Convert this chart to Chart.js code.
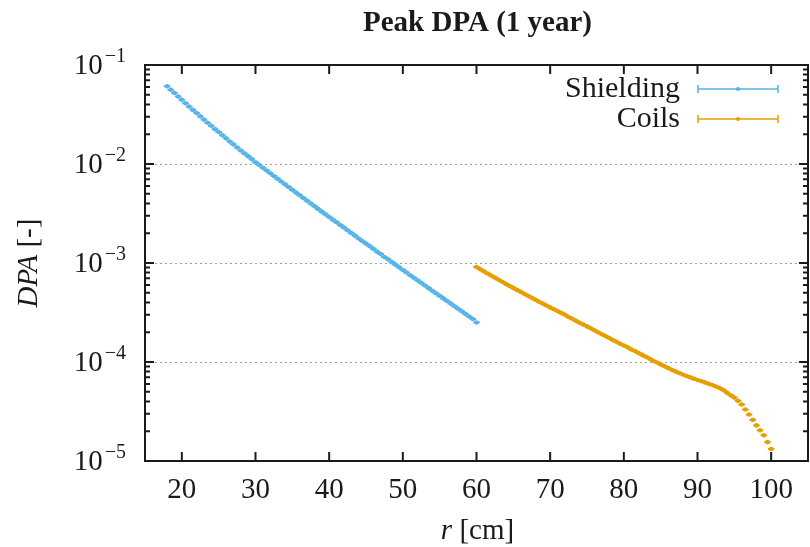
<!DOCTYPE html>
<html>
<head>
<meta charset="utf-8">
<script src="https://cdn.jsdelivr.net/npm/chart.js@4.4.1/dist/chart.umd.min.js"></script>
<style>
  html, body { margin: 0; padding: 0; background: #fff; overflow: hidden; }
  #wrap { width: 812px; height: 547px; }
</style>
</head>
<body>
<div id="wrap"><canvas id="dpaChart" width="812" height="547"></canvas></div>
<script>
// r positions [cm] and peak DPA values
const shieldR = [18, 18.5, 19, 19.5, 20, 20.5, 21, 21.5, 22, 22.5, 23, 23.5, 24, 24.5, 25,
  25.5, 26, 26.5, 27, 27.5, 28, 28.5, 29, 29.5, 30,
  30.5, 31, 31.5, 32, 32.5, 33, 33.5, 34, 34.5, 35,
  35.5, 36, 36.5, 37, 37.5, 38, 38.5, 39, 39.5, 40,
  40.5, 41, 41.5, 42, 42.5, 43, 43.5, 44, 44.5, 45,
  45.5, 46, 46.5, 47, 47.5, 48, 48.5, 49, 49.5, 50,
  50.5, 51, 51.5, 52, 52.5, 53, 53.5, 54, 54.5, 55,
  55.5, 56, 56.5, 57, 57.5, 58, 58.5, 59, 59.5, 60];
const shieldDPA = [0.0610, 0.0562, 0.0521, 0.0481, 0.0445, 0.0411, 0.0380, 0.0352, 0.0327, 0.0303, 0.0281, 0.0261, 0.0243, 0.0225, 0.0210,
  0.0195, 0.0182, 0.0169, 0.0158, 0.0147, 0.0137, 0.0128, 0.0120, 0.0112, 0.0104,
  0.00980, 0.00918, 0.00861, 0.00807, 0.00757, 0.00710, 0.00665, 0.00624, 0.00585, 0.00548,
  0.00514, 0.00483, 0.00453, 0.00426, 0.00399, 0.00375, 0.00352, 0.00330, 0.00310, 0.00292,
  0.00274, 0.00258, 0.00242, 0.00228, 0.00214, 0.00201, 0.00189, 0.00177, 0.00167, 0.00157,
  0.00148, 0.00139, 0.00130, 0.00123, 0.00115, 0.00109, 0.00102, 0.000962, 0.000904, 0.000851,
  0.000802, 0.000753, 0.000710, 0.000668, 0.000630, 0.000592, 0.000557, 0.000525, 0.000494, 0.000466,
  0.000439, 0.000413, 0.000389, 0.000366, 0.000345, 0.000325, 0.000306, 0.000288, 0.000272, 0.000251];

const coilR = [60, 60.5, 61, 61.5, 62, 62.5, 63, 63.5, 64, 64.5,
  65, 65.5, 66, 66.5, 67, 67.5, 68, 68.5, 69, 69.5,
  70, 70.5, 71, 71.5, 72, 72.5, 73, 73.5, 74, 74.5,
  75, 75.5, 76, 76.5, 77, 77.5, 78, 78.5, 79, 79.5,
  80, 80.5, 81, 81.5, 82, 82.5, 83, 83.5, 84, 84.5,
  85, 85.5, 86, 86.5, 87, 87.5, 88, 88.5, 89, 89.5,
  90, 90.5, 91, 91.5, 92, 92.5, 93, 93.5, 94, 94.5,
  95, 95.5, 96, 96.5, 97, 97.5, 98, 98.5, 99, 99.5, 100];
const coilDPA = [9.12e-4, 8.67e-4, 8.24e-4, 7.83e-4, 7.46e-4, 7.11e-4, 6.78e-4, 6.46e-4, 6.15e-4, 5.86e-4,
  5.60e-4, 5.35e-4, 5.11e-4, 4.88e-4, 4.66e-4, 4.45e-4, 4.26e-4, 4.06e-4, 3.89e-4, 3.72e-4,
  3.56e-4, 3.41e-4, 3.27e-4, 3.13e-4, 3.00e-4, 2.85e-4, 2.73e-4, 2.61e-4, 2.49e-4, 2.39e-4,
  2.29e-4, 2.19e-4, 2.09e-4, 2.00e-4, 1.91e-4, 1.83e-4, 1.75e-4, 1.67e-4, 1.60e-4, 1.53e-4,
  1.47e-4, 1.41e-4, 1.34e-4, 1.29e-4, 1.23e-4, 1.18e-4, 1.13e-4, 1.08e-4, 1.03e-4, 9.89e-5,
  9.46e-5, 9.08e-5, 8.71e-5, 8.36e-5, 8.04e-5, 7.74e-5, 7.48e-5, 7.23e-5, 7.00e-5, 6.79e-5,
  6.59e-5, 6.41e-5, 6.22e-5, 6.04e-5, 5.86e-5, 5.66e-5, 5.45e-5, 5.21e-5, 4.90e-5, 4.62e-5,
  4.37e-5, 4.05e-5, 3.72e-5, 3.31e-5, 2.95e-5, 2.60e-5, 2.29e-5, 2.04e-5, 1.82e-5, 1.55e-5, 1.32e-5];

const xTicks = [20, 30, 40, 50, 60, 70, 80, 90, 100];
const yDecades = [1e-1, 1e-2, 1e-3, 1e-4, 1e-5];
const yExponents = ['\u22121', '\u22122', '\u22123', '\u22124', '\u22125'];
const seriesNames = ['Shielding', 'Coils'];
const seriesColors = ['#56b4e9', '#e69f00'];
const rHalfBin = 0.45; // horizontal error bar half width [cm]

const SERIF = '"Liberation Serif", "Times New Roman", serif';
const INK = '#1a1a1a';

// ── gnuplot-like frame, ticks, grid, labels and key ─────────────────────────
const gnuplotLook = {
  id: 'gnuplotLook',
  beforeDatasetsDraw(chart) {
    const { ctx, chartArea: a, scales: { x, y } } = chart;
    ctx.save();
    // dotted horizontal grid at decades
    ctx.strokeStyle = '#a0a0a0';
    ctx.lineWidth = 1;
    ctx.setLineDash([2, 3]);
    yDecades.slice(1, -1).forEach(v => {
      const py = Math.round(y.getPixelForValue(v)) + 0.5;
      ctx.beginPath(); ctx.moveTo(a.left, py); ctx.lineTo(a.right, py); ctx.stroke();
    });
    ctx.setLineDash([]);
    // horizontal error bars (bin width)
    chart.data.datasets.forEach(ds => {
      ctx.strokeStyle = ds.borderColor;
      ctx.lineWidth = 2;
      ds.data.forEach(p => {
        const py = y.getPixelForValue(p.y);
        ctx.beginPath();
        ctx.moveTo(x.getPixelForValue(p.x - rHalfBin), py);
        ctx.lineTo(x.getPixelForValue(p.x + rHalfBin), py);
        ctx.stroke();
      });
    });
    ctx.restore();
  },
  afterDraw(chart) {
    const { ctx, chartArea: a, scales: { x, y } } = chart;
    ctx.save();
    ctx.strokeStyle = INK;
    ctx.fillStyle = INK;

    // frame
    ctx.lineWidth = 2;
    ctx.strokeRect(a.left, a.top, a.right - a.left, a.bottom - a.top);

    // x ticks (bottom + mirrored top)
    xTicks.forEach(v => {
      const px = x.getPixelForValue(v);
      ctx.beginPath();
      ctx.moveTo(px, a.bottom); ctx.lineTo(px, a.bottom - 9);
      ctx.moveTo(px, a.top); ctx.lineTo(px, a.top + 9);
      ctx.stroke();
    });

    // y ticks, major + minor, both sides
    yDecades.forEach((d, i) => {
      const py = y.getPixelForValue(d);
      ctx.beginPath();
      ctx.moveTo(a.left, py); ctx.lineTo(a.left + 9, py);
      ctx.moveTo(a.right, py); ctx.lineTo(a.right - 9, py);
      ctx.stroke();
      if (i === 0) return;
      for (let m = 2; m <= 9; m++) {
        const pm = y.getPixelForValue(m * d);
        ctx.beginPath();
        ctx.moveTo(a.left, pm); ctx.lineTo(a.left + 5, pm);
        ctx.moveTo(a.right, pm); ctx.lineTo(a.right - 5, pm);
        ctx.stroke();
      }
    });

    // y tick labels 10^-n
    ctx.textAlign = 'left';
    ctx.textBaseline = 'alphabetic';
    yDecades.forEach((d, i) => {
      const py = y.getPixelForValue(d);
      ctx.font = `20px ${SERIF}`;
      const wExp = ctx.measureText(yExponents[i]).width;
      ctx.font = `29px ${SERIF}`;
      const wBase = ctx.measureText('10').width;
      const right = 126;
      ctx.fillText('10', right - wExp - 2 - wBase, py + 9);
      ctx.font = `20px ${SERIF}`;
      ctx.fillText(yExponents[i], right - wExp, py - 3);
    });

    // title
    ctx.textAlign = 'center';
    ctx.font = `bold 29px ${SERIF}`;
    ctx.fillText('Peak DPA (1 year)', (a.left + 810) / 2, 31);

    // mixed italic/upright label helper
    const drawMixed = (parts, cx, by) => {
      let total = 0;
      parts.forEach(p => { ctx.font = p.font; total += ctx.measureText(p.t).width; });
      let cur = cx - total / 2;
      ctx.textAlign = 'left';
      parts.forEach(p => { ctx.font = p.font; ctx.fillText(p.t, cur, by); cur += ctx.measureText(p.t).width; });
    };
    drawMixed([{ t: 'r', font: `italic 29px ${SERIF}` }, { t: ' [cm]', font: `29px ${SERIF}` }], (a.left + 810) / 2, 539);

    // y axis title rotated
    ctx.save();
    ctx.translate(37, (a.top + a.bottom) / 2);
    ctx.rotate(-Math.PI / 2);
    drawMixed([{ t: 'DPA', font: `italic 29px ${SERIF}` }, { t: ' [-]', font: `29px ${SERIF}` }], 0, 0);
    ctx.restore();

    // key
    const keyY = [89, 119];
    seriesNames.forEach((name, i) => {
      const ky = keyY[i];
      ctx.fillStyle = INK;
      ctx.font = `30px ${SERIF}`;
      ctx.textAlign = 'right';
      ctx.fillText(name, 680, ky + 8);
      ctx.strokeStyle = seriesColors[i];
      ctx.fillStyle = seriesColors[i];
      ctx.lineWidth = 1.5;
      ctx.beginPath();
      ctx.moveTo(698, ky); ctx.lineTo(778, ky);
      ctx.moveTo(698, ky - 4); ctx.lineTo(698, ky + 4);
      ctx.moveTo(778, ky - 4); ctx.lineTo(778, ky + 4);
      ctx.stroke();
      ctx.beginPath(); ctx.arc(738, ky, 2, 0, Math.PI * 2); ctx.fill();
    });
    ctx.restore();
  }
};

const toPoints = (rs, vs) => rs.map((r, i) => ({ x: r, y: vs[i] }));

new Chart(document.getElementById('dpaChart'), {
  type: 'scatter',
  data: {
    datasets: [
      { label: seriesNames[0], data: toPoints(shieldR, shieldDPA), borderColor: seriesColors[0], backgroundColor: seriesColors[0], pointRadius: 2.3, pointBorderWidth: 0, pointStyle: 'circle' },
      { label: seriesNames[1], data: toPoints(coilR, coilDPA), borderColor: seriesColors[1], backgroundColor: seriesColors[1], pointRadius: 2.3, pointBorderWidth: 0, pointStyle: 'circle' }
    ]
  },
  options: {
    responsive: false,
    animation: false,
    layout: { padding: { top: 65, right: 0, left: 0, bottom: 0 } },
    plugins: { legend: { display: false }, title: { display: false }, tooltip: { enabled: false } },
    scales: {
      x: {
        type: 'linear', min: 15, max: 105,
        afterBuildTicks: s => { s.ticks = xTicks.map(v => ({ value: v })); },
        afterFit: s => { s.height = 86; },
        grid: { display: false, drawTicks: false },
        border: { display: false },
        ticks: { color: INK, padding: 12, maxRotation: 0, autoSkip: false, font: { family: SERIF, size: 29 } }
      },
      y: {
        type: 'logarithmic', min: 1e-5, max: 1e-1,
        afterFit: s => { s.width = 145; },
        grid: { display: false, drawTicks: false },
        border: { display: false },
        ticks: { display: false }
      }
    }
  },
  plugins: [gnuplotLook]
});
</script>
</body>
</html>
